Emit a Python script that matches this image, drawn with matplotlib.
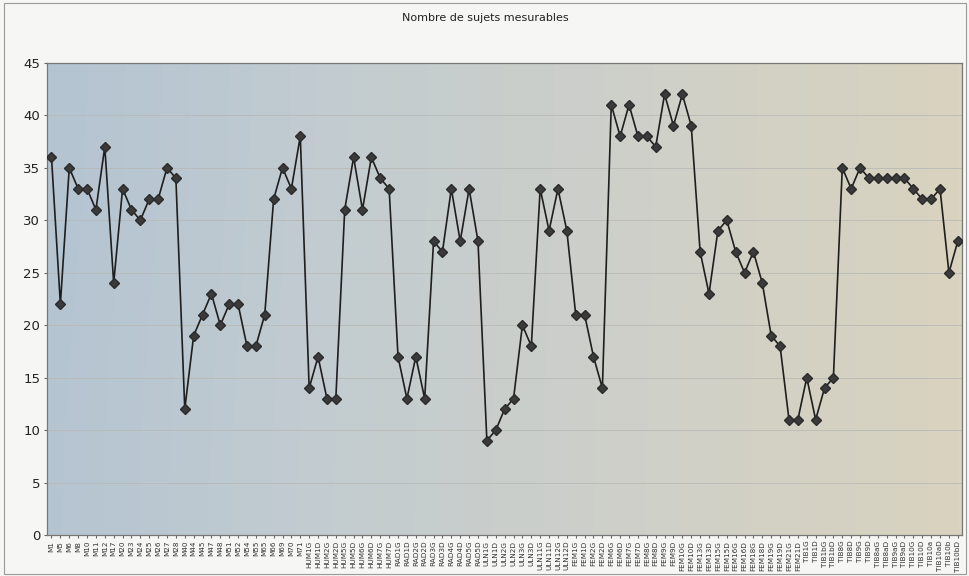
import numpy as np
import matplotlib
matplotlib.use("Agg")
import matplotlib.pyplot as plt
from matplotlib.colors import LinearSegmentedColormap
from matplotlib.patches import Rectangle

# ------------ Data ------------
labels = [
    "M1", "M5", "M6", "M8", "M10", "M11", "M12", "M17", "M20", "M23",
    "M24", "M25", "M26", "M27", "M28", "M40", "M44", "M45", "M47", "M48",
    "M51", "M52", "M54", "M55", "M65", "M66", "M69", "M70", "M71",
    "HUM1G", "HUM1D", "HUM2G", "HUM2D", "HUM5G", "HUM5D", "HUM6G", "HUM6D",
    "HUM7G", "HUM7D",
    "RAD1G", "RAD1D", "RAD2G", "RAD2D", "RAD3G", "RAD3D", "RAD4G", "RAD4D",
    "RAD5G", "RAD5D",
    "ULN1G", "ULN1D", "ULN2G", "ULN2D", "ULN3G", "ULN3D", "ULN11G", "ULN11D",
    "ULN12G", "ULN12D",
    "FEM1G", "FEM1D", "FEM2G", "FEM2D", "FEM6G", "FEM6D", "FEM7G", "FEM7D",
    "FEM8G", "FEM8D", "FEM9G", "FEM9D", "FEM10G", "FEM10D", "FEM13G", "FEM13D",
    "FEM15G", "FEM15D", "FEM16G", "FEM16D", "FEM18G", "FEM18D", "FEM19G",
    "FEM19D", "FEM21G", "FEM21D",
    "TIB1G", "TIB1D", "TIB1bG", "TIB1bD", "TIB8G", "TIB8D", "TIB9G", "TIB9D",
    "TIB8aG", "TIB8aD", "TIB9aG", "TIB9aD", "TIB10G", "TIB10D", "TIB10a",
    "TIB10aD", "TIB10b", "TIB10bD",
]

sujets = [
    36, 22, 35, 33, 33, 31, 37, 24, 33, 31,
    30, 32, 32, 35, 34, 12, 19, 21, 23, 20,
    22, 22, 18, 18, 21, 32, 35, 33, 38,
    14, 17, 13, 13, 31, 36, 31, 36, 34, 33,
    17, 13, 17, 13, 28, 27, 33, 28, 33, 28,
    9, 10, 12, 13, 20, 18, 33, 29, 33, 29,
    21, 21, 17, 14, 41, 38, 41, 38, 38, 37,
    42, 39, 42, 39, 27, 23, 29, 30, 27, 25,
    27, 24, 19, 18, 11, 11,
    15, 11, 14, 15, 35, 33, 35, 34, 34, 34,
    34, 34, 33, 32, 32, 33, 25, 28,
]

y_ticks = list(range(0, 50, 5))
TITLE = "Nombre de sujets mesurables"

# ------------ Figure ------------
fig = plt.figure(figsize=(9.7, 5.76), dpi=100, facecolor="#f6f6f4")
ax = fig.add_axes([0.0485, 0.071, 0.9435, 0.82])

# blue-grey to beige background inside the plot area
bg = LinearSegmentedColormap.from_list(
    "bg", ["#b4c4d2", "#c3ccd0", "#cfd0c8", "#d9d3bf"])
grad = np.linspace(0, 1, 256).reshape(1, -1)
grad = np.vstack([grad, grad * 0.97 + 0.03])
ax.imshow(grad, cmap=bg, aspect="auto", extent=[0, 1, 0, 1],
          transform=ax.transAxes, zorder=0, interpolation="bicubic")

x = np.arange(len(labels))
ax.plot(x, sujets, color="#1e1e1e", lw=1.2, marker="D", markersize=5,
        markerfacecolor="#3a3a3a", markeredgecolor="#2a2a2a", zorder=3)

ax.set_xlim(-0.5, len(labels) - 0.5)
ax.set_ylim(0, 45)
ax.set_yticks(y_ticks)
ax.set_yticklabels([str(t) for t in y_ticks], fontsize=9.5, color="#222222")
ax.set_xticks(x)
ax.set_xticklabels(labels, rotation=90, fontsize=5.2, color="#333333")
ax.tick_params(axis="x", length=2, pad=2, color="#666666")
ax.tick_params(axis="y", length=2, pad=3, color="#666666")

ax.grid(axis="y", color="#b9bab6", lw=0.6, zorder=1)
for s in ax.spines.values():
    s.set_color("#777777")
    s.set_linewidth(0.9)

fig.text(0.5, 0.968, TITLE, ha="center", va="center", fontsize=8,
         color="#222222")

# thin frame around the chart object
fig.patches.append(Rectangle((0.004, 0.004), 0.992, 0.99, transform=fig.transFigure,
                             fill=False, edgecolor="#9a9a9a", lw=0.8))

fig.savefig("out.png", dpi=100, facecolor=fig.get_facecolor())
